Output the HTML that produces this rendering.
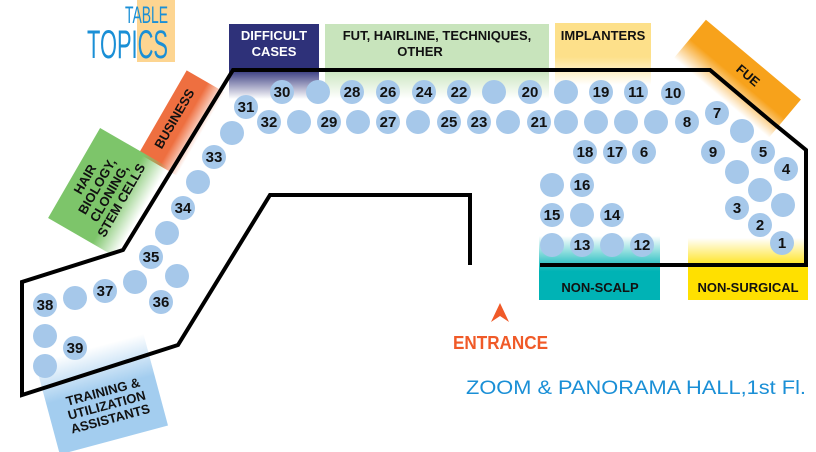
<!DOCTYPE html>
<html><head><style>
html,body{margin:0;padding:0;background:#fff;}
svg{display:block;}
.n{font-family:"Liberation Sans",sans-serif;font-weight:bold;font-size:15px;fill:#111;text-anchor:middle;}
.l{font-family:"Liberation Sans",sans-serif;font-weight:bold;font-size:13px;fill:#111;text-anchor:middle;}
</style></head><body>
<svg width="816" height="452" viewBox="0 0 816 452" xmlns="http://www.w3.org/2000/svg">
<defs>
<linearGradient id="gNavy" x1="0" y1="0" x2="0" y2="1"><stop offset="0.6" stop-color="#2e3179"/><stop offset="1" stop-color="#2e3179" stop-opacity="0"/></linearGradient>
<linearGradient id="gGreen" x1="0" y1="0" x2="0" y2="1"><stop offset="0.6" stop-color="#c8e4bc"/><stop offset="1" stop-color="#c8e4bc" stop-opacity="0"/></linearGradient>
<linearGradient id="gYel" x1="0" y1="0" x2="0" y2="1"><stop offset="0.55" stop-color="#fde08a"/><stop offset="1" stop-color="#fde08a" stop-opacity="0"/></linearGradient>
<linearGradient id="gTeal" x1="0" y1="1" x2="0" y2="0"><stop offset="0.45" stop-color="#00b3b5"/><stop offset="1" stop-color="#00b3b5" stop-opacity="0"/></linearGradient>
<linearGradient id="gSurg" x1="0" y1="1" x2="0" y2="0"><stop offset="0.5" stop-color="#ffe000"/><stop offset="1" stop-color="#ffe000" stop-opacity="0"/></linearGradient>
<linearGradient id="gOr" x1="0" y1="0" x2="0" y2="1"><stop offset="0.55" stop-color="#ee6f40"/><stop offset="1" stop-color="#ee6f40" stop-opacity="0"/></linearGradient>
<linearGradient id="gFue" x1="0" y1="0" x2="0" y2="1"><stop offset="0.5" stop-color="#f7a21b"/><stop offset="1" stop-color="#f7a21b" stop-opacity="0"/></linearGradient>
<linearGradient id="gHair" x1="0" y1="0" x2="0" y2="1"><stop offset="0.65" stop-color="#7dc56a"/><stop offset="1" stop-color="#7dc56a" stop-opacity="0"/></linearGradient>
<linearGradient id="gTrain" x1="0" y1="0" x2="0" y2="1"><stop offset="0" stop-color="#a3cdef" stop-opacity="0"/><stop offset="0.45" stop-color="#a3cdef"/></linearGradient>
</defs>

<!-- Title -->
<rect x="137" y="0" width="38" height="62" fill="#fdd591"/>
<text x="125" y="23" font-family="Liberation Sans" font-size="24" fill="#1a8fd6" textLength="43" lengthAdjust="spacingAndGlyphs">TABLE</text>
<text x="87" y="58" font-family="Liberation Sans" font-size="40" fill="#1a8fd6" textLength="81" lengthAdjust="spacingAndGlyphs">TOPICS</text>

<!-- top labels -->
<rect x="229" y="24" width="90" height="75" fill="url(#gNavy)"/>
<text x="274" y="40" class="l" style="fill:#fff">DIFFICULT</text>
<text x="274" y="56" class="l" style="fill:#fff">CASES</text>
<rect x="325" y="24" width="224" height="75" fill="url(#gGreen)"/>
<text x="437" y="40" class="l">FUT, HAIRLINE, TECHNIQUES,</text>
<text x="420" y="56" class="l">OTHER</text>
<rect x="555" y="23" width="96" height="62" fill="url(#gYel)"/>
<text x="603" y="40" class="l">IMPLANTERS</text>

<!-- FUE -->
<g transform="translate(738,78) rotate(40)">
<rect x="-62" y="-24" width="124" height="50" fill="url(#gFue)"/>
<text x="6" y="-4" class="l">FUE</text>
</g>
<!-- Business -->
<g transform="translate(180,122) rotate(-60)">
<rect x="-48" y="-20" width="96" height="44" fill="url(#gOr)"/>
<text x="0" y="-2" class="l">BUSINESS</text>
</g>
<!-- Hair -->
<g transform="translate(107,192) rotate(-60)">
<rect x="-52" y="-38" width="104" height="78" fill="url(#gHair)"/>
<text x="0" y="-21" class="l">HAIR</text>
<text x="0" y="-7" class="l">BIOLOGY,</text>
<text x="0" y="7" class="l">CLONING,</text>
<text x="0" y="21" class="l">STEM CELLS</text>
</g>
<!-- Training -->
<g transform="translate(100,392) rotate(-15)">
<rect x="-55" y="-45" width="112" height="95" fill="url(#gTrain)"/>
<text x="3" y="5" class="l">TRAINING &amp;</text>
<text x="3" y="19" class="l">UTILIZATION</text>
<text x="3" y="33" class="l">ASSISTANTS</text>
</g>

<rect x="539" y="236" width="121" height="64" fill="url(#gTeal)"/>
<text x="600" y="292" class="l">NON-SCALP</text>
<rect x="688" y="238" width="120" height="62" fill="url(#gSurg)"/>
<text x="748" y="292" class="l">NON-SURGICAL</text>

<!-- walls -->
<g fill="none" stroke="#000" stroke-width="4" stroke-linejoin="miter">
<polyline points="540,265 806,265 806,150 773,123 710,70 233,70 123,250 22,282 22,395 178,345 270,195 470,195 470,265"/>
</g>

<!-- seats -->
<g fill="#a6c8ea">
<circle cx="282" cy="92" r="12"/><circle cx="318" cy="92" r="12"/><circle cx="352" cy="92" r="12"/><circle cx="388" cy="92" r="12"/><circle cx="424" cy="92" r="12"/><circle cx="459" cy="92" r="12"/><circle cx="494" cy="92" r="12"/><circle cx="530" cy="92" r="12"/><circle cx="566" cy="92" r="12"/><circle cx="601" cy="92" r="12"/><circle cx="636" cy="92" r="12"/><circle cx="673" cy="93" r="12"/>
<circle cx="246" cy="107" r="12"/>
<circle cx="269" cy="122" r="12"/><circle cx="299" cy="122" r="12"/><circle cx="329" cy="122" r="12"/><circle cx="358" cy="122" r="12"/><circle cx="388" cy="122" r="12"/><circle cx="418" cy="122" r="12"/><circle cx="449" cy="122" r="12"/><circle cx="479" cy="122" r="12"/><circle cx="508" cy="122" r="12"/><circle cx="539" cy="122" r="12"/><circle cx="566" cy="122" r="12"/><circle cx="596" cy="122" r="12"/><circle cx="626" cy="122" r="12"/><circle cx="656" cy="122" r="12"/><circle cx="687" cy="122" r="12"/>
<circle cx="717" cy="113" r="12"/><circle cx="742" cy="131" r="12"/><circle cx="713" cy="152" r="12"/><circle cx="763" cy="152" r="12"/><circle cx="737" cy="172" r="12"/><circle cx="786" cy="169" r="12"/><circle cx="760" cy="190" r="12"/><circle cx="737" cy="208" r="12"/><circle cx="783" cy="205" r="12"/><circle cx="760" cy="225" r="12"/><circle cx="782" cy="243" r="12"/>
<circle cx="585" cy="152" r="12"/><circle cx="615" cy="152" r="12"/><circle cx="644" cy="152" r="12"/>
<circle cx="552" cy="185" r="12"/><circle cx="582" cy="185" r="12"/><circle cx="552" cy="215" r="12"/><circle cx="582" cy="215" r="12"/><circle cx="612" cy="215" r="12"/>
<circle cx="552" cy="245" r="12"/><circle cx="582" cy="245" r="12"/><circle cx="612" cy="245" r="12"/><circle cx="642" cy="245" r="12"/>
<circle cx="232" cy="133" r="12"/><circle cx="214" cy="157" r="12"/><circle cx="198" cy="182" r="12"/><circle cx="183" cy="208" r="12"/><circle cx="167" cy="233" r="12"/><circle cx="151" cy="257" r="12"/><circle cx="177" cy="276" r="12"/><circle cx="161" cy="302" r="12"/><circle cx="135" cy="282" r="12"/><circle cx="105" cy="291" r="12"/><circle cx="75" cy="298" r="12"/><circle cx="45" cy="305" r="12"/><circle cx="45" cy="336" r="12"/><circle cx="75" cy="348" r="12"/><circle cx="45" cy="366" r="12"/>
</g>
<g>
<text x="282" y="97" class="n">30</text><text x="352" y="97" class="n">28</text><text x="388" y="97" class="n">26</text><text x="424" y="97" class="n">24</text><text x="459" y="97" class="n">22</text><text x="530" y="97" class="n">20</text><text x="601" y="97" class="n">19</text><text x="636" y="97" class="n">11</text><text x="673" y="98" class="n">10</text>
<text x="246" y="112" class="n">31</text><text x="269" y="127" class="n">32</text><text x="329" y="127" class="n">29</text><text x="388" y="127" class="n">27</text><text x="449" y="127" class="n">25</text><text x="479" y="127" class="n">23</text><text x="539" y="127" class="n">21</text><text x="687" y="127" class="n">8</text>
<text x="717" y="118" class="n">7</text><text x="713" y="157" class="n">9</text><text x="763" y="157" class="n">5</text><text x="786" y="174" class="n">4</text><text x="737" y="213" class="n">3</text><text x="760" y="230" class="n">2</text><text x="782" y="248" class="n">1</text>
<text x="585" y="157" class="n">18</text><text x="615" y="157" class="n">17</text><text x="644" y="157" class="n">6</text>
<text x="582" y="190" class="n">16</text><text x="552" y="220" class="n">15</text><text x="612" y="220" class="n">14</text><text x="582" y="250" class="n">13</text><text x="642" y="250" class="n">12</text>
<text x="214" y="162" class="n">33</text><text x="183" y="213" class="n">34</text><text x="151" y="262" class="n">35</text><text x="161" y="307" class="n">36</text><text x="105" y="296" class="n">37</text><text x="45" y="310" class="n">38</text><text x="75" y="353" class="n">39</text>
</g>

<!-- entrance -->
<polygon points="500,303 491,322 500,316 509,322" fill="#f05a28"/>
<text x="453" y="349" font-family="Liberation Sans" font-weight="bold" font-size="18" fill="#f05a28" textLength="95" lengthAdjust="spacingAndGlyphs">ENTRANCE</text>
<text x="466" y="394" font-family="Liberation Sans" font-size="19" fill="#1a8fd6" textLength="340" lengthAdjust="spacingAndGlyphs">ZOOM &amp; PANORAMA HALL,1st Fl.</text>
</svg>
</body></html>
